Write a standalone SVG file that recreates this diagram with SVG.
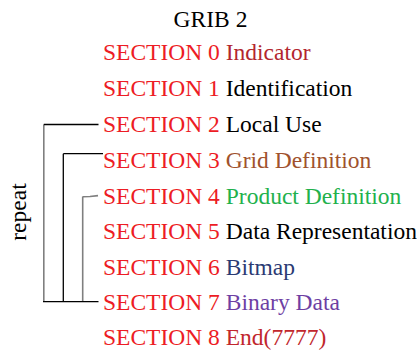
<svg xmlns="http://www.w3.org/2000/svg" width="417" height="350" viewBox="0 0 417 350">
<style>
text{font-family:"Liberation Serif","Times New Roman",serif;font-size:23.5px;fill:#000}
.sec{fill:#ed1c24}
.blk{stroke:#000;stroke-width:1.3;fill:none}
.gry{stroke:#7f7f7f;stroke-width:1.6;fill:none}
</style>
<rect width="417" height="350" fill="#fff"/>
<g id="title"><text x="210.5" y="27.3" text-anchor="middle">GRIB 2</text></g>
<g id="s0"><text x="103" y="60.3"><tspan class="sec">SECTION 0</tspan> <tspan fill="#b3262e">Indicator</tspan></text></g>
<g id="s1"><text x="103" y="96.3"><tspan class="sec">SECTION 1</tspan> <tspan>Identification</tspan></text></g>
<g id="s2"><text x="103" y="132.3"><tspan class="sec">SECTION 2</tspan> <tspan>Local Use</tspan></text></g>
<g id="s3"><text x="103" y="168.3"><tspan class="sec">SECTION 3</tspan> <tspan fill="#a0522d">Grid Definition</tspan></text></g>
<g id="s4"><text x="103" y="203.5"><tspan class="sec">SECTION 4</tspan> <tspan fill="#22b14c">Product Definition</tspan></text></g>
<g id="s5"><text x="103" y="239"><tspan class="sec">SECTION 5</tspan> <tspan>Data Representation</tspan></text></g>
<g id="s6"><text x="103" y="274.5"><tspan class="sec">SECTION 6</tspan> <tspan fill="#2b3a73">Bitmap</tspan></text></g>
<g id="s7"><text x="103" y="309.8"><tspan class="sec">SECTION 7</tspan> <tspan fill="#6e3fa3">Binary Data</tspan></text></g>
<g id="s8"><text x="103" y="345.3"><tspan class="sec">SECTION 8</tspan> <tspan fill="#c1272d">End(7777)</tspan></text></g>
<g id="repeat"><text transform="translate(25.5,212) rotate(-90)" text-anchor="middle">repeat</text></g>
<g id="connectors">
<line class="gry" x1="43.8" y1="124.5" x2="43.8" y2="301.7"/>
<line class="blk" x1="43.8" y1="124.5" x2="98.5" y2="124.5"/>
<line class="blk" x1="63.3" y1="153.7" x2="63.3" y2="301.7"/>
<line class="blk" x1="63.3" y1="153.7" x2="103" y2="153.7"/>
<line class="gry" x1="82.7" y1="196.5" x2="82.7" y2="301.7"/>
<polyline class="gry" points="82.7,196.8 90,196.5 98,195.6"/>
<line class="blk" x1="43" y1="301.7" x2="98.5" y2="301.7"/>
</g>
</svg>
